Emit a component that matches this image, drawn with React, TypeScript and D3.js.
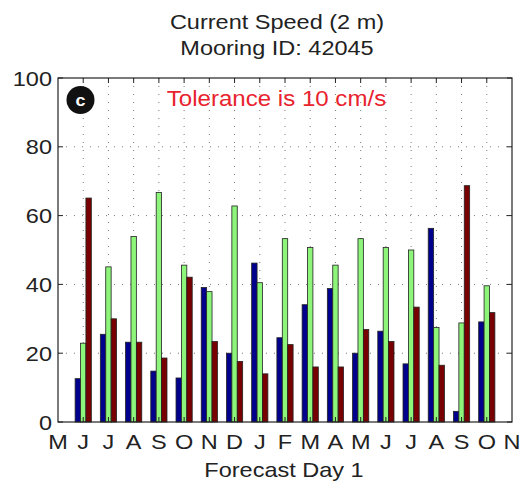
import React from "react";
import * as d3 from "d3";

const monthLabels = ["M","J","J","A","S","O","N","D","J","F","M","A","M","J","J","A","S","O","N"];
const navyValues = [12.6,25.5,23.2,14.8,12.8,39.1,20.0,46.2,24.5,34.1,38.8,20.0,26.4,16.9,56.3,3.1,29.1];
const greenValues = [22.9,45.1,53.9,66.7,45.6,37.9,62.8,40.5,53.3,50.7,45.6,53.3,50.7,50.0,27.5,28.8,39.6];
const redValues = [65.1,30.0,23.2,18.6,42.1,23.4,17.6,14.0,22.5,16.0,16.0,26.9,23.4,33.4,16.5,68.7,31.8];
const yTicks = [0,20,40,60,80,100];
const seriesColors = ["#00008c","#8cf57a","#780000"];

const W = 520, H = 490;
const L = 58, R = 512, T = 78, B = 422;
const FONT = "'Liberation Sans', Arial, Helvetica, sans-serif";
const SX = 1.12;

function Txt({ x, y, anchor = "middle", size = 21, fill = "#222", weight = "normal", children }: any) {
  return (
    <g transform={`translate(${x},${y}) scale(${SX},1)`}>
      <text x={0} y={0} textAnchor={anchor} fontFamily={FONT} fontSize={size} fontWeight={weight} fill={fill}>{children}</text>
    </g>
  );
}

export default function App() {
  const x = d3.scaleLinear().domain([0, monthLabels.length - 1]).range([L, R]);
  const y = d3.scaleLinear().domain([0, 100]).range([B, T]);
  const series = [navyValues, greenValues, redValues];
  const bw = 5.4;
  const innerX = monthLabels.map((_, i) => i).slice(1, -1);

  return (
    <svg width={W} height={H} style={{ position: "absolute", left: 0, top: 0, background: "#fff" }}>
      <rect x={0} y={0} width={W} height={H} fill="#fff" />
      <Txt x={277} y={29}>Current Speed (2 m)</Txt>
      <Txt x={277} y={55}>Mooring ID: 42045</Txt>

      {/* grid */}
      {yTicks.slice(1, -1).map((t) => (
        <line key={"gy" + t} x1={L} x2={R} y1={y(t)} y2={y(t)} stroke="#777" strokeWidth={1} strokeDasharray="1,7" />
      ))}
      {innerX.map((i) => (
        <line key={"gx" + i} x1={x(i)} x2={x(i)} y1={T} y2={B} stroke="#777" strokeWidth={1} strokeDasharray="1,7" />
      ))}

      {/* bars */}
      {series.map((vals, s) =>
        vals.map((v, i) => {
          const cx = x(i + 1) + (s - 1) * bw;
          return (
            <rect key={s + "-" + i} x={cx - bw / 2} y={y(v)} width={bw} height={y(0) - y(v)}
              fill={seriesColors[s]} stroke="#222" strokeWidth={0.8} />
          );
        })
      )}

      {/* ticks */}
      {innerX.map((i) => (
        <g key={"tx" + i}>
          <line x1={x(i)} x2={x(i)} y1={B} y2={B - 5} stroke="#222" />
          <line x1={x(i)} x2={x(i)} y1={T} y2={T + 5} stroke="#222" />
        </g>
      ))}
      {yTicks.map((t) => (
        <g key={"ty" + t}>
          <line x1={L} x2={L + 5} y1={y(t)} y2={y(t)} stroke="#222" />
          <line x1={R} x2={R - 5} y1={y(t)} y2={y(t)} stroke="#222" />
        </g>
      ))}
      <rect x={L} y={T} width={R - L} height={B - T} fill="none" stroke="#222" strokeWidth={1.2} />

      {/* tick labels */}
      {yTicks.map((t) => (
        <Txt key={"yl" + t} x={L - 6} y={y(t) + 7.5} anchor="end">{t}</Txt>
      ))}
      {monthLabels.map((m, i) => (
        <Txt key={"xl" + i} x={x(i)} y={449}>{m}</Txt>
      ))}
      <Txt x={284} y={477}>Forecast Day 1</Txt>

      {/* annotations */}
      <circle cx={80.5} cy={100} r={14} fill="#111" />
      <Txt x={80.5} y={106} size={16} weight="bold" fill="#fff">c</Txt>
      <Txt x={276.5} y={106} size={21.5} fill="#e8232e">Tolerance is 10 cm/s</Txt>
    </svg>
  );
}
